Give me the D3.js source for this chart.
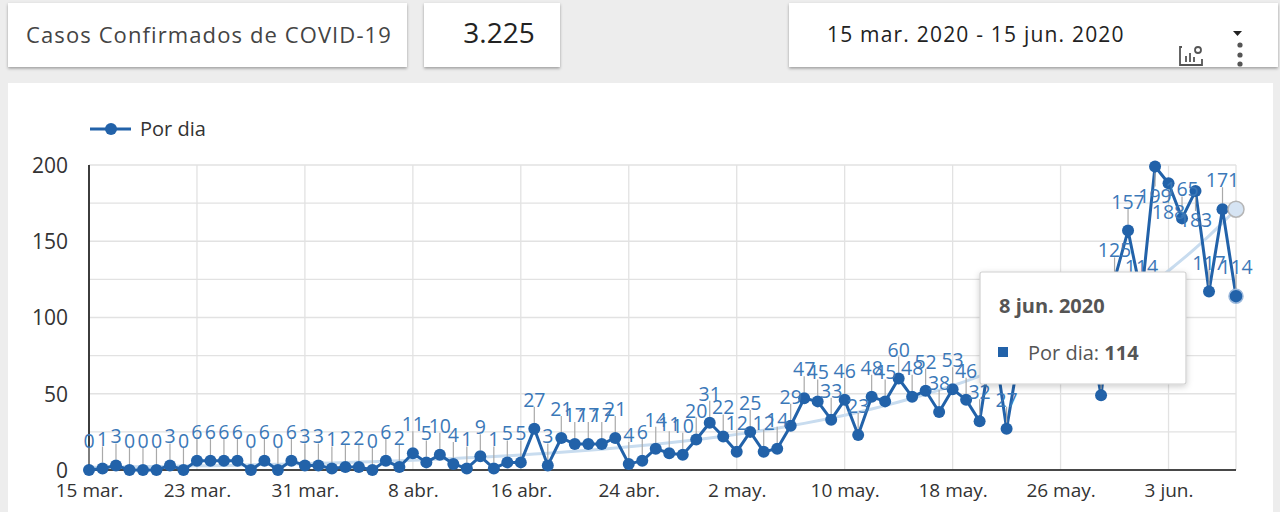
<!DOCTYPE html>
<html>
<head>
<meta charset="utf-8">
<script src="https://cdn.jsdelivr.net/npm/d3@7"></script>
<style>
  html, body { margin: 0; padding: 0; background: #ececec; }
  svg { display: block; font-family: "Open Sans", "Noto Sans", sans-serif; }
</style>
</head>
<body>
<svg id="chart" width="1280" height="512"></svg>
<script>
// ---------------- DATA ----------------
const startDate = "2020-03-15";
const dailyCases = [
  0, 1, 3, 0, 0, 0, 3, 0,
  6, 6, 6, 6, 0, 6, 0, 6,
  3, 3, 1, 2, 2, 0, 6, 2,
  11, 5, 10, 4, 1, 9, 1, 5,
  5, 27, 3, 21, 17, 17, 17, 21,
  4, 6, 14, 11, 10, 20, 31, 22,
  12, 25, 12, 14, 29, 47, 45, 33,
  46, 23, 48, 45, 60, 48, 52, 38,
  53, 46, 32, 88, 27, 80, 62, 90,
  72, 64, 98, 49, 125, 157, 114, 199,
  188, 165, 183, 117, 171, 114
];
const xTickLabels = ["15 mar.", "23 mar.", "31 mar.", "8 abr.", "16 abr.", "24 abr.",
                     "2 may.", "10 may.", "18 may.", "26 may.", "3 jun."];
const yTickValues = [0, 50, 100, 150, 200];
const yGridValues = [0, 25, 50, 75, 100, 125, 150, 175, 200];
const seriesName = "Por dia";
const cardTitle = "Casos Confirmados de COVID-19";
const dateRangeText = "15 mar. 2020 - 15 jun. 2020";
const tooltipDateText = "8 jun. 2020";

// ---------------- SETUP ----------------
const svg = d3.select("#chart");
const parse = d3.utcParse("%Y-%m-%d");
const start = parse(startDate);
const data = dailyCases.map((v, i) => ({ date: d3.utcDay.offset(start, i), value: v, i }));
const esLocale = d3.formatLocale({ decimal: ",", thousands: ".", grouping: [3], currency: ["", "€"] });
const fmtTotal = esLocale.format(",d");

const C = {
  line: "#2262a9",
  label: "#3b78b8",
  stem: "#a9a9a9",
  trend: "#c8dcef",
  grid: "#e2e2e2",
  text: "#333"
};

const defs = svg.append("defs");
const sh = defs.append("filter").attr("id", "shadow").attr("x", "-5%").attr("y", "-20%").attr("width", "110%").attr("height", "150%");
sh.append("feDropShadow").attr("dx", 0).attr("dy", 1.5).attr("stdDeviation", 1.5).attr("flood-color", "#000").attr("flood-opacity", 0.35);
const sh2 = defs.append("filter").attr("id", "shadow2").attr("x", "-10%").attr("y", "-10%").attr("width", "120%").attr("height", "130%");
sh2.append("feDropShadow").attr("dx", 0).attr("dy", 2).attr("stdDeviation", 3).attr("flood-color", "#000").attr("flood-opacity", 0.2);

// background
svg.append("rect").attr("width", 1280).attr("height", 512).attr("fill", "#ededed");

// ---------------- TOP CARDS ----------------
function card(x, y, w, h) {
  return svg.append("rect").attr("x", x).attr("y", y).attr("width", w).attr("height", h)
    .attr("fill", "#fff").attr("filter", "url(#shadow)");
}
card(8, 3, 399, 64);
svg.append("text").attr("x", 209).attr("y", 43).attr("text-anchor", "middle")
  .attr("font-size", 22).attr("letter-spacing", 1.1).attr("fill", "#444").text(cardTitle);

card(424, 3, 136, 64);
svg.append("text").attr("x", 499).attr("y", 43).attr("text-anchor", "middle")
  .attr("font-size", 28).attr("fill", "#222").text(fmtTotal(d3.sum(dailyCases)));

card(789, 3, 489, 64);
svg.append("text").attr("x", 827).attr("y", 42).attr("text-anchor", "start")
  .attr("font-size", 21).attr("letter-spacing", 1.2).attr("fill", "#222").text(dateRangeText);
// dropdown triangle
svg.append("path").attr("d", "M1233,31 L1242,31 L1237.5,36 Z").attr("fill", "#222");
// chart settings icon
const ic = svg.append("g").attr("transform", "translate(1180,44)").attr("fill", "none").attr("stroke", "#555").attr("stroke-width", 1.8);
ic.append("path").attr("d", "M2,3 L0,3 L0,21 L22,21 L22,15");
ic.append("path").attr("d", "M6,18 L6,12 M10,18 L10,9 M14,18 L14,13");
ic.append("circle").attr("cx", 18).attr("cy", 6).attr("r", 3);
// kebab
[45, 55, 64].forEach(cy => svg.append("circle").attr("cx", 1240).attr("cy", cy).attr("r", 2.6).attr("fill", "#555"));

// ---------------- CHART CARD ----------------
svg.append("rect").attr("x", 8).attr("y", 83).attr("width", 1265).attr("height", 440).attr("fill", "#fff");

const x = d3.scaleUtc().domain([data[0].date, data[data.length - 1].date]).range([89, 1236]);
const y = d3.scaleLinear().domain([0, 200]).range([470, 165]);

// gridlines
const g = svg.append("g");
g.selectAll(".hg").data(yGridValues).join("line")
  .attr("x1", x.range()[0]).attr("x2", x.range()[1])
  .attr("y1", d => y(d)).attr("y2", d => y(d))
  .attr("stroke", C.grid).attr("stroke-width", 1.3);
const xTickDates = xTickLabels.map((_, k) => d3.utcDay.offset(start, k * 8));
g.selectAll(".vg").data(xTickDates.concat([data[data.length - 1].date])).join("line")
  .attr("x1", d => x(d)).attr("x2", d => x(d))
  .attr("y1", y(200)).attr("y2", y(0))
  .attr("stroke", C.grid).attr("stroke-width", 1.3);

// axes (using d3 axes for labels)
const yAxis = d3.axisLeft(y).tickValues(yTickValues).tickSize(0).tickPadding(21);
const yg = svg.append("g").attr("transform", `translate(${x.range()[0]},0)`).call(yAxis);
yg.select(".domain").remove();
yg.selectAll("text").attr("font-size", 21).attr("fill", "#333").attr("font-family", "Open Sans, sans-serif").attr("dy", "0.35em");

const xAxis = d3.axisBottom(x).tickValues(xTickDates).tickFormat((d, k) => xTickLabels[k]).tickSize(0).tickPadding(14);
const xg = svg.append("g").attr("transform", `translate(0,${y(0)})`).call(xAxis);
xg.select(".domain").remove();
xg.selectAll("text").attr("font-size", 19).attr("fill", "#333").attr("font-family", "Open Sans, sans-serif");

// axis lines
svg.append("line").attr("x1", x.range()[0]).attr("x2", x.range()[0]).attr("y1", y(200)).attr("y2", y(0)).attr("stroke", "#111").attr("stroke-width", 1.6);
svg.append("line").attr("x1", x.range()[0]).attr("x2", x.range()[1]).attr("y1", y(0)).attr("y2", y(0)).attr("stroke", "#111").attr("stroke-width", 1.6);

// ---------------- TRENDLINE (exponential fit from data, weighted log regression) ----------------
const pos = data.filter(d => d.value > 0);
const wt = d => Math.sqrt(d.value);
const W = d3.sum(pos, wt);
const mx = d3.sum(pos, d => wt(d) * d.i) / W;
const my = d3.sum(pos, d => wt(d) * Math.log(d.value)) / W;
const b = d3.sum(pos, d => wt(d) * (d.i - mx) * (Math.log(d.value) - my)) / d3.sum(pos, d => wt(d) * (d.i - mx) ** 2);
const a = Math.exp(my - b * mx);
const trend = data.map(d => ({ date: d.date, value: a * Math.exp(b * d.i) }));
svg.append("path").datum(trend)
  .attr("d", d3.line().x(d => x(d.date)).y(d => y(d.value)).curve(d3.curveMonotoneX))
  .attr("fill", "none").attr("stroke", C.trend).attr("stroke-width", 3);

// ---------------- SERIES ----------------
svg.append("path").datum(data)
  .attr("d", d3.line().x(d => x(d.date)).y(d => y(d.value)))
  .attr("fill", "none").attr("stroke", C.line).attr("stroke-width", 3).attr("stroke-linejoin", "round");

// label placement: above the point unless it would leave the plot top
const plotTop = y(200);
const below = d => (y(d.value) - 22 - 14) < plotTop;

// stems
svg.append("g").selectAll("line").data(data).join("line")
  .attr("x1", d => x(d.date)).attr("x2", d => x(d.date))
  .attr("y1", d => below(d) ? y(d.value) + 6 : y(d.value) - 6)
  .attr("y2", d => below(d) ? y(d.value) + 20 : y(d.value) - 22)
  .attr("stroke", C.stem).attr("stroke-width", 1.2);

svg.append("g").selectAll("circle").data(data).join("circle")
  .attr("cx", d => x(d.date)).attr("cy", d => y(d.value)).attr("r", 6)
  .attr("fill", C.line);

// tooltip box geometry (drawn last)
const TT = { x: 980, y: 272, w: 206, h: 112 };
const hidden = d => {
  const lx = x(d.date), by = below(d) ? y(d.value) + 36 : y(d.value) - 22;
  const w = String(d.value).length * 11;
  return lx - w / 2 > TT.x && lx + w / 2 < TT.x + TT.w && by - 14 > TT.y && by < TT.y + TT.h;
};

// labels
svg.append("g").selectAll("text").data(data.filter(d => !hidden(d))).join("text")
  .attr("x", d => x(d.date)).attr("y", d => below(d) ? y(d.value) + 36 : y(d.value) - 22)
  .attr("text-anchor", "middle").attr("font-size", 19.5).attr("fill", C.label)
  .text(d => d.value);

// hover markers at last point
const last = data[data.length - 1];
const lastTrend = trend[trend.length - 1];
svg.append("circle").attr("cx", x(last.date)).attr("cy", y(last.value)).attr("r", 7)
  .attr("fill", C.line).attr("stroke", "#9cb9dc").attr("stroke-width", 1.5);
svg.append("circle").attr("cx", x(lastTrend.date)).attr("cy", y(lastTrend.value)).attr("r", 8)
  .attr("fill", "#d6e4f3").attr("stroke", "#b5b5b5").attr("stroke-width", 1.5);

// ---------------- LEGEND ----------------
svg.append("line").attr("x1", 90).attr("x2", 131).attr("y1", 129).attr("y2", 129).attr("stroke", C.line).attr("stroke-width", 3);
svg.append("circle").attr("cx", 111).attr("cy", 129).attr("r", 6).attr("fill", C.line);
svg.append("text").attr("x", 140).attr("y", 136).attr("font-size", 20).attr("fill", "#333").text(seriesName);

// ---------------- TOOLTIP ----------------
const tt = svg.append("g");
tt.append("rect").attr("x", TT.x).attr("y", TT.y).attr("width", TT.w).attr("height", TT.h).attr("rx", 2)
  .attr("fill", "#fff").attr("stroke", "#d0d0d0").attr("stroke-width", 1.2).attr("filter", "url(#shadow2)");
tt.append("text").attr("x", 999).attr("y", 313).attr("font-size", 20).attr("font-weight", 700).attr("fill", "#555").text(tooltipDateText);
tt.append("rect").attr("x", 998).attr("y", 347).attr("width", 10).attr("height", 10).attr("fill", C.line);
const t2 = tt.append("text").attr("x", 1028).attr("y", 360).attr("font-size", 20).attr("fill", "#555");
t2.append("tspan").text(seriesName + ": ");
t2.append("tspan").attr("font-weight", 700).text(last.value);
</script>
</body>
</html>
